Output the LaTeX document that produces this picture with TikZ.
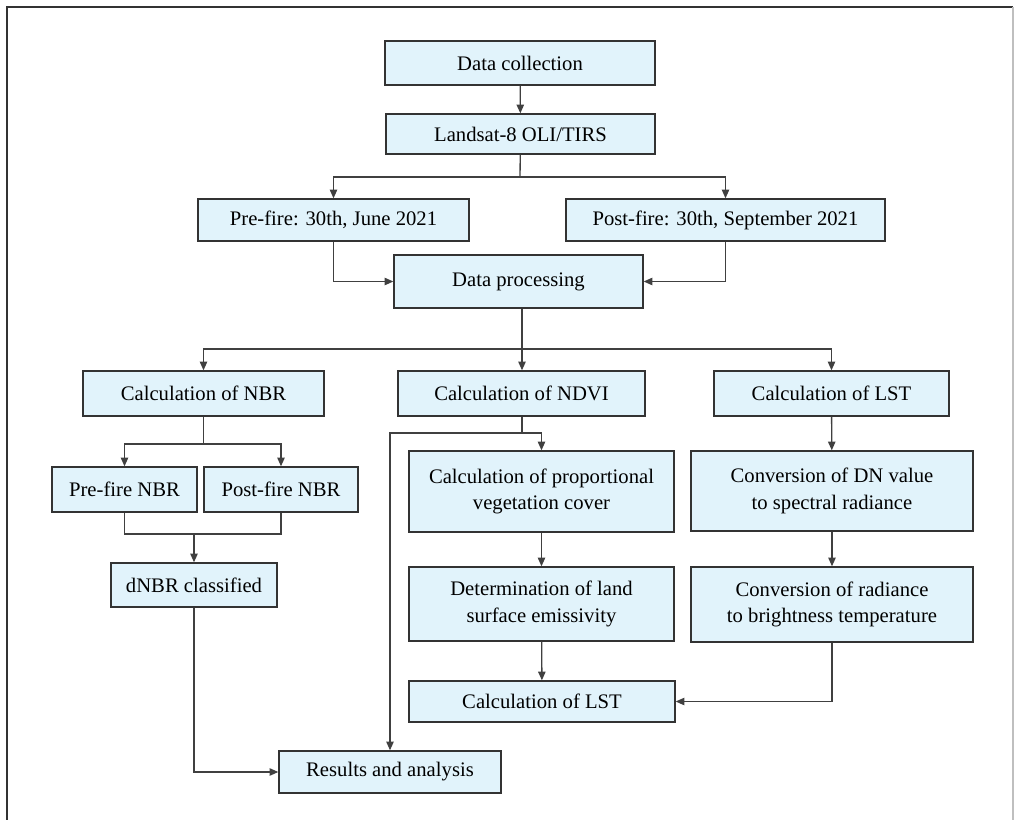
\documentclass[tikz,border=0pt]{standalone}
\usepackage{xcolor}
\usepackage{fontspec}
\setmainfont{Liberation Serif}
\usepackage{tikz}
\usetikzlibrary{positioning,arrows.meta}

\definecolor{boxfill}{HTML}{E1F3FB}
\definecolor{boxline}{HTML}{333333}
\definecolor{linkline}{HTML}{404040}

\begin{document}
\begin{tikzpicture}[
            x=0.75pt, y=-0.75pt,
            link/.style={draw=linkline, line width=1pt},
            arr/.style={link, -{Triangle[length=6.5pt,width=5.5pt]}},
            auto
        ]
            \useasboundingbox (0,0) rectangle (1017,820);
            % Frame
            \draw[line width=2pt, black!80] (7,820) -- (7,7) -- (1013,7);
            \draw[line width=0.8pt, black!25] (1013,7) -- (1013,820);
            \begin{scope}[
                every node/.style={draw=boxline, fill=boxfill, line width=1pt,
                    align=center, inner sep=0pt,
                    font=\fontsize{15.5}{20}\selectfont}
            ]
                % Boxes
                \node[minimum width=270*0.75pt, minimum height=44*0.75pt] (coll) at (520,63) {Data collection};
                \node[minimum width=269*0.75pt, minimum height=40*0.75pt] (sat) at (520.5,134) {Landsat-8 OLI/TIRS};
                \node[minimum width=271*0.75pt, minimum height=42*0.75pt] (pre) at (333.5,220) {Pre-fire: 30th, June 2021};
                \node[minimum width=319*0.75pt, minimum height=42*0.75pt] (post) at (725.5,220) {Post-fire: 30th, September 2021};
                \node[minimum width=249*0.75pt, minimum height=53*0.75pt] (proc) at (518.5,281.5) {Data processing};
                \node[minimum width=241*0.75pt, minimum height=45*0.75pt] (nbr) at (203.5,393.5) {Calculation of NBR};
                \node[minimum width=247*0.75pt, minimum height=45*0.75pt] (ndvi) at (521.5,393.5) {Calculation of NDVI};
                \node[minimum width=235*0.75pt, minimum height=45*0.75pt] (lst) at (831.5,393.5) {Calculation of LST};
                \node[minimum width=145*0.75pt, minimum height=45*0.75pt] (prenbr) at (124.5,489.5) {Pre-fire NBR};
                \node[minimum width=154*0.75pt, minimum height=45*0.75pt] (postnbr) at (281,489.5) {Post-fire NBR};
                \node[minimum width=265*0.75pt, minimum height=81*0.75pt] (pvc) at (541.5,491.5) {Calculation of proportional\\vegetation cover};
                \node[minimum width=282*0.75pt, minimum height=80*0.75pt] (dn) at (832,491) {Conversion of DN value\\to spectral radiance};
                \node[minimum width=166*0.75pt, minimum height=44*0.75pt] (dnbr) at (194,585) {dNBR classified};
                \node[minimum width=265*0.75pt, minimum height=74*0.75pt] (lse) at (541.5,604) {Determination of land\\surface emissivity};
                \node[minimum width=282*0.75pt, minimum height=75*0.75pt] (rad) at (832,604.5) {Conversion of radiance\\to brightness temperature};
                \node[minimum width=266*0.75pt, minimum height=41*0.75pt] (clst) at (542,701.5) {Calculation of LST};
                \node[minimum width=222*0.75pt, minimum height=42*0.75pt] (res) at (390,772) {Results and analysis};
            \end{scope}
            % Junctions
            \coordinate (j1) at (520,177);
            \coordinate (j2) at (522,349);
            \coordinate (j3) at (203.5,444);
            \coordinate (j4) at (194,534);
            \coordinate (j5) at (522,433);
            % Edges
            \draw[arr] (coll) -- (sat);
            \draw[link] (sat) -- (j1);
            \draw[arr] (j1) -| (pre);
            \draw[arr] (j1) -| (post);
            \draw[arr] (pre) |- (proc);
            \draw[arr] (post) |- (proc);
            \draw[link] (proc.south -| j2) -- (j2);
            \draw[arr] (j2) -| (nbr);
            \draw[arr] (j2) -- (ndvi.north -| j2);
            \draw[arr] (j2) -| (lst);
            \draw[link] (nbr) -- (j3);
            \draw[arr] (j3) -| (prenbr);
            \draw[arr] (j3) -| (postnbr);
            \draw[link] (prenbr) |- (j4);
            \draw[link] (postnbr) |- (j4);
            \draw[arr] (j4) -- (dnbr);
            \draw[arr] (dnbr) |- (res);
            \draw[link] (ndvi.south -| j5) -- (j5);
            \draw[arr] (j5) -| (pvc);
            \draw[arr] (j5) -| (res);
            \draw[arr] (pvc) -- (lse);
            \draw[arr] (lse) -- (clst);
            \draw[arr] (lst) -- (dn);
            \draw[arr] (dn) -- (rad);
            \draw[arr] (rad) |- (clst);
        \end{tikzpicture}
\end{document}
